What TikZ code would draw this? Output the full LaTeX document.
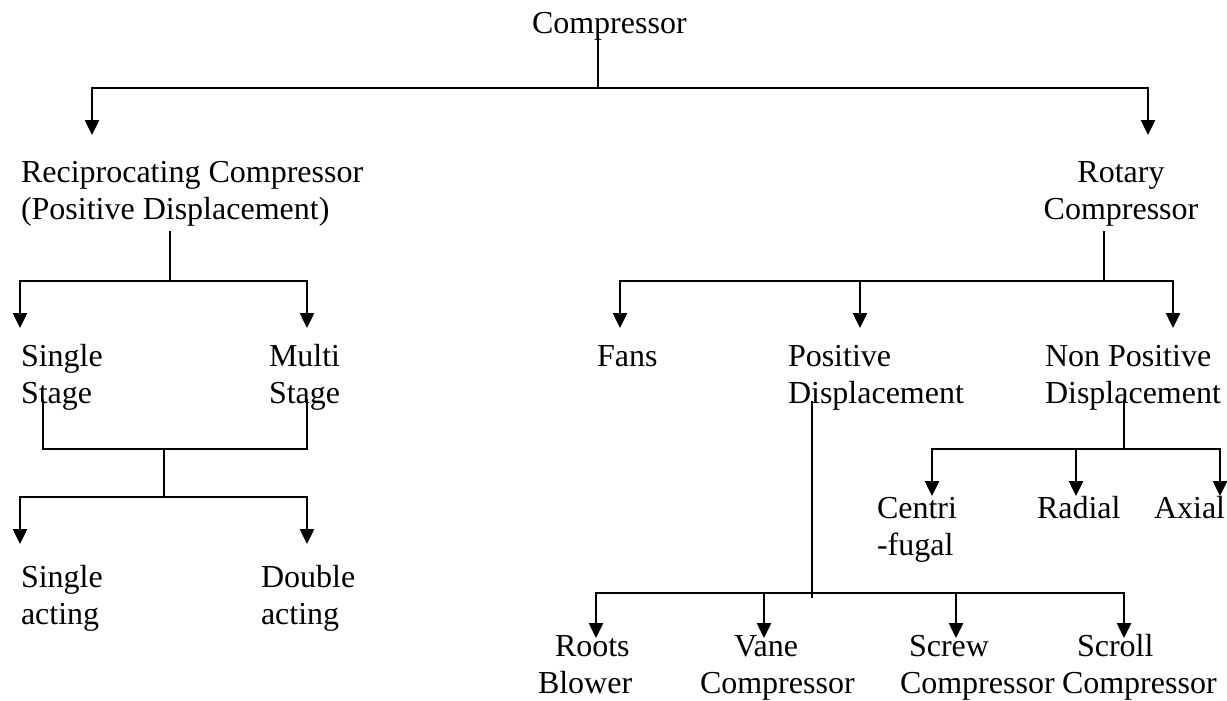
\documentclass[tikz,border=0pt]{standalone}
\usepackage{fontspec}
\setmainfont{Liberation Serif}
\usetikzlibrary{arrows.meta}
\newcommand\twolines[2]{\begin{tabular}[t]{@{}l@{}}#1\\#2\end{tabular}}
\tikzset{
  lbl/.style={inner sep=0pt, outer sep=0pt, anchor=base west, font=\fontsize{32}{37}\selectfont},
  wire/.style={line width=2.5pt, line cap=rect},
  arr/.style={line width=2.5pt, -{Triangle[length=15pt,width=14pt]}},
}
\begin{document}
\begin{tikzpicture}[x=1pt,y=-1pt]
\useasboundingbox (0,0) rectangle (1227,701);
% ---------- nodes ----------
\node[lbl] (comp) at (532,34) {Compressor};
\node[lbl] (recip) at (21,182) {\twolines{Reciprocating Compressor}{(Positive Displacement)}};
\node[lbl,anchor=base] (rot) at (1121,182) {\begin{tabular}[t]{@{}c@{}}Rotary\\Compressor\end{tabular}};
\node[lbl] (single) at (21,366) {\twolines{Single}{Stage}};
\node[lbl] (multi) at (269,366) {\twolines{Multi}{Stage}};
\node[lbl] (sact) at (21,587) {\twolines{Single}{acting}};
\node[lbl] (dact) at (261,587) {\twolines{Double}{acting}};
\node[lbl] (fans) at (597,366) {Fans};
\node[lbl] (pos) at (788,366) {\twolines{Positive}{Displacement}};
\node[lbl] (npos) at (1045,366) {\twolines{Non Positive}{Displacement}};
\node[lbl] (centri) at (877,518) {\twolines{Centri}{-fugal}};
\node[lbl] (radial) at (1037,518) {Radial};
\node[lbl] (axial) at (1154,518) {Axial};
\node[lbl] (roots) at (538,656) {\twolines{\hspace{17pt}Roots}{Blower}};
\node[lbl] (vane) at (700,656) {\twolines{\hspace{34pt}Vane}{Compressor}};
\node[lbl] (screw) at (900,656) {\twolines{\hspace{9pt}Screw}{Compressor}};
\node[lbl] (scroll) at (1062,656) {\twolines{\hspace{15pt}Scroll}{Compressor}};
% ---------- connector points ----------
\coordinate (compOut) at (598,38);
\coordinate (j0) at (598,88);
\coordinate (recipIn) at (92,135);
\coordinate (rotIn) at (1148,135);
\coordinate (recipOut) at (170,232);
\coordinate (j1) at (170,281);
\coordinate (singleIn) at (20,328);
\coordinate (multiIn) at (307,328);
\coordinate (rotOut) at (1104,232);
\coordinate (j2) at (1104,281);
\coordinate (fansIn) at (620,328);
\coordinate (posIn) at (860,328);
\coordinate (nposIn) at (1173,328);
\coordinate (singleOut) at (43,400);
\coordinate (multiOut) at (307,400);
\coordinate (j3) at (164,449);
\coordinate (j4) at (164,497);
\coordinate (sactIn) at (20,544);
\coordinate (dactIn) at (307,544);
\coordinate (posOut) at (812,402);
\coordinate (posEnd) at (812,597);
\coordinate (j5) at (812,593);
\coordinate (rootsIn) at (596,638);
\coordinate (vaneIn) at (764,638);
\coordinate (screwIn) at (956,638);
\coordinate (scrollIn) at (1124,638);
\coordinate (nposOut) at (1124,400);
\coordinate (j6) at (1124,449);
\coordinate (centriIn) at (932,496);
\coordinate (radialIn) at (1076,496);
\coordinate (axialIn) at (1220,496);
% ---------- connectors ----------
\draw[wire] (compOut) -- (j0);
\draw[arr] (j0) -| (recipIn);
\draw[arr] (j0) -| (rotIn);
\draw[wire] (recipOut) -- (j1);
\draw[arr] (j1) -| (singleIn);
\draw[arr] (j1) -| (multiIn);
\draw[wire] (rotOut) -- (j2);
\draw[arr] (j2) -| (fansIn);
\draw[arr] (j2) -| (posIn);
\draw[arr] (j2) -| (nposIn);
\draw[wire] (singleOut) |- (j3) -| (multiOut);
\draw[wire] (j3) -- (j4);
\draw[arr] (j4) -| (sactIn);
\draw[arr] (j4) -| (dactIn);
\draw[wire] (posOut) -- (posEnd);
\draw[arr] (j5) -| (rootsIn);
\draw[arr] (j5) -| (vaneIn);
\draw[arr] (j5) -| (screwIn);
\draw[arr] (j5) -| (scrollIn);
\draw[wire] (nposOut) -- (j6);
\draw[arr] (j6) -| (centriIn);
\draw[arr] (j6) -| (radialIn);
\draw[arr] (j6) -| (axialIn);
\end{tikzpicture}
\end{document}
